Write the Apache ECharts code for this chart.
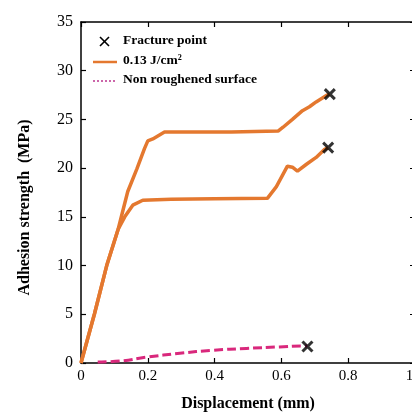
<!DOCTYPE html>
<html>
<head>
<meta charset="utf-8">
<script src="https://cdn.jsdelivr.net/npm/echarts@6/dist/echarts.min.js"></script>
<style>
html,body{margin:0;padding:0;background:#fff;}
#chart{width:412px;height:412px;}
</style>
</head>
<body>
<div id="chart"></div>
<script>
// Data
var upperX = [0, 0.04, 0.077, 0.111, 0.14, 0.167, 0.19, 0.2, 0.215, 0.23, 0.25, 0.34, 0.45, 0.59, 0.605, 0.633, 0.663, 0.684, 0.704, 0.737, 0.745];
var upperY = [0, 5, 10, 13.7, 17.6, 19.9, 22.0, 22.8, 23.0, 23.3, 23.7, 23.7, 23.7, 23.8, 24.2, 25.0, 25.9, 26.3, 26.8, 27.5, 27.6];
var lowerX = [0, 0.04, 0.077, 0.111, 0.131, 0.155, 0.185, 0.27, 0.4, 0.558, 0.585, 0.618, 0.633, 0.648, 0.675, 0.704, 0.728, 0.74];
var lowerY = [0, 5, 10, 13.7, 15.0, 16.2, 16.7, 16.8, 16.85, 16.9, 18.1, 20.2, 20.1, 19.7, 20.4, 21.1, 21.9, 22.1];
var plainX = [0.05, 0.116, 0.197, 0.296, 0.394, 0.495, 0.594, 0.663, 0.678];
var plainY = [0.1, 0.2, 0.6, 1.0, 1.3, 1.5, 1.65, 1.75, 1.75];
var fractureX = [0.745, 0.74, 0.678];
var fractureY = [27.6, 22.1, 1.7];
var legendNames = ['Fracture point', '0.13 J/cm²', 'Non roughened surface'];

function pairs(xs, ys) { return xs.map(function (x, i) { return [x, ys[i]]; }); }

var ORANGE = '#e4782f';
var PINK = '#d9287c';
var XPATH = 'path://M0,0 L10,10 M10,0 L0,10';
var serif = '"Liberation Serif", "DejaVu Serif", serif';

var chart = echarts.init(document.getElementById('chart'), null, {renderer: 'canvas'});
var axisCommon = {
  axisLine: {show: true, onZero: false, lineStyle: {color: '#000', width: 1.5}},
  axisTick: {show: true, inside: true, length: 5, lineStyle: {color: '#000', width: 1.2}},
  splitLine: {show: false}
};
chart.setOption({
  animation: false,
  backgroundColor: '#fff',
  grid: {left: 81, top: 22, right: -3, bottom: 49, outerBoundsMode: 'none', containLabel: false},
  xAxis: [
    Object.assign({
      type: 'value', min: 0, max: 1, interval: 0.2, position: 'bottom',
      name: 'Displacement (mm)', nameLocation: 'middle', nameGap: 33,
      nameTextStyle: {fontFamily: serif, fontWeight: 'bold', fontSize: 16, color: '#000'},
      axisLabel: {fontFamily: serif, fontSize: 15, color: '#000', margin: 6,
        formatter: function (v) { return v === 0 ? '0' : v.toFixed(1); }}
    }, axisCommon),
    Object.assign({
      type: 'value', min: 0, max: 1, interval: 0.2, position: 'top',
      axisLabel: {show: false}
    }, axisCommon)
  ],
  yAxis: [
    Object.assign({
      type: 'value', min: 0, max: 35, interval: 5, position: 'left',
      name: 'Adhesion strength  (MPa)', nameLocation: 'middle', nameGap: 48,
      nameTextStyle: {fontFamily: serif, fontWeight: 'bold', fontSize: 16, color: '#000', padding: [0, 0, 0, -30]},
      axisLabel: {fontFamily: serif, fontSize: 16, color: '#000', margin: 8}
    }, axisCommon),
    Object.assign({
      type: 'value', min: 0, max: 35, interval: 5, position: 'right',
      axisLabel: {show: false}
    }, axisCommon)
  ],
  series: [
    {
      name: legendNames[1], type: 'line', data: pairs(upperX, upperY), showSymbol: false, symbol: 'none',
      lineStyle: {color: ORANGE, width: 3.5}, z: 2
    },
    {
      name: legendNames[1], type: 'line', data: pairs(lowerX, lowerY), showSymbol: false, symbol: 'none',
      lineStyle: {color: ORANGE, width: 3.5}, z: 2
    },
    {
      name: legendNames[2], type: 'line', data: pairs(plainX, plainY), showSymbol: false, symbol: 'none', smooth: true,
      lineStyle: {color: PINK, width: 3, type: [9, 4]}, z: 2
    },
    {
      name: legendNames[0], type: 'scatter', data: pairs(fractureX, fractureY),
      symbol: XPATH, symbolSize: 10,
      itemStyle: {color: 'none', borderColor: '#000', borderWidth: 3}, z: 3
    }
  ],
  graphic: [
    {type: 'line', shape: {x1: 100, y1: 37, x2: 109, y2: 46}, style: {stroke: '#000', lineWidth: 1.6}},
    {type: 'line', shape: {x1: 109, y1: 37, x2: 100, y2: 46}, style: {stroke: '#000', lineWidth: 1.6}},
    {type: 'text', left: 123, top: 34, style: {text: legendNames[0], font: 'bold 13.5px ' + serif, fill: '#000'}},
    {type: 'line', shape: {x1: 93, y1: 62, x2: 117, y2: 62}, style: {stroke: ORANGE, lineWidth: 2.5}},
    {type: 'text', left: 123, top: 54, style: {text: legendNames[1], font: 'bold 13.5px ' + serif, fill: '#000'}},
    {type: 'line', shape: {x1: 93, y1: 81, x2: 117, y2: 81}, style: {stroke: '#cc66aa', lineWidth: 2, lineDash: [2, 2]}},
    {type: 'text', left: 123, top: 73, style: {text: legendNames[2], font: 'bold 13.5px ' + serif, fill: '#000'}}
  ]
});
</script>
</body>
</html>
